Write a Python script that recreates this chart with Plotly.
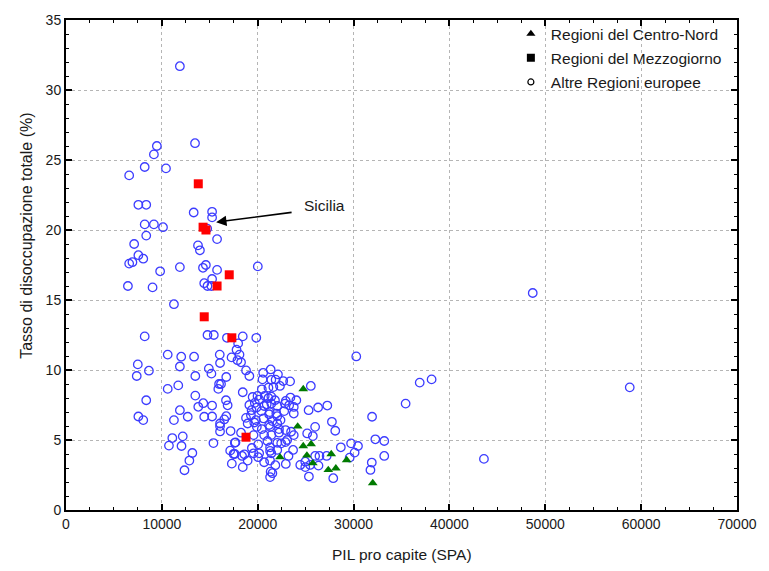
import plotly.graph_objects as go

# ---- Data ----
centro_nord_pil = [24750, 24170, 24750, 25570, 25130, 22320, 25750, 27670, 27360, 28150, 29280, 32000]
centro_nord_tasso = [8.64, 5.97, 4.57, 4.71, 3.9, 3.77, 3.34, 4.0, 2.86, 2.98, 3.57, 1.92]

mezzogiorno_pil = [13800, 14300, 14600, 17030, 15760, 14420, 17300, 18780]
mezzogiorno_tasso = [23.3, 20.2, 20.0, 16.8, 16.0, 13.8, 12.3, 5.2]

altre_pil = [
    11880, 13460, 9480, 9170, 8210, 10430, 6590, 7550, 8370, 13320, 15240, 15240,
    8210, 9170, 10120, 14730, 7110, 8370, 13770, 13970, 15760, 7550, 6590, 6930,
    8060, 9820, 11880, 14590, 14290, 15760, 20010, 15240, 14420, 14760, 15170, 6460,
    9030, 11260, 48690,
    8210, 14760, 15420, 16790, 18440, 19850, 17960, 17790, 18100, 17270, 17890, 18260,
    10610, 12020, 13360, 16040, 16070, 18780, 7490, 8650, 11880, 14900, 7380, 13490,
    15170, 16720, 19130, 20570, 30280, 21350,
    15970, 16170, 15890, 10610, 11710, 13490, 14320, 13800, 15240, 16690, 16860, 8370,
    7550, 8060, 11880, 12700, 11260, 14420, 15240, 16720, 16510, 16070, 16070, 17170,
    16070, 18440, 20500, 21420, 22110, 21870, 22660, 23380, 25540, 22320, 20430, 21120,
    21630, 19980, 20730, 21420, 19470, 21120, 21800, 22930, 23410, 24030, 19130, 19700,
    20150, 20940, 20670, 21420, 22040, 22840, 19360, 19880, 20390, 21250, 21940, 22760,
    23280, 23760, 23760, 19290, 21190, 22040, 18780, 19810, 20600, 21530, 22380, 18950,
    19640, 21190, 22040, 25310, 26300, 27260, 27740, 36900, 38140, 35430, 31930, 58810,
    19910, 20430, 21290, 22220, 22900, 23480, 22220, 21420, 28090, 25990, 25160, 25750,
    23760, 20670, 19570, 18260, 17680, 11090, 12180, 10740, 12050, 15380, 13180, 12870,
    12360, 17610, 17130, 17480, 17610, 17300, 18370, 18610, 18950, 18440, 19570, 19390,
    20050, 20050, 20150, 20670, 21010, 21290, 21290, 21420, 21290, 21840, 21350, 21530,
    21290, 22040, 22040, 22450, 22900, 23070, 23690, 23210, 22930, 24440, 24960, 24960,
    25470, 25340, 25990, 26440, 27190, 26340, 27880, 28670, 29740, 30460, 30110, 29590,
    32270, 31900, 31760, 33200, 33200, 43600,
]
altre_tasso = [
    31.7, 26.2, 26.0, 25.4, 24.5, 24.4, 23.9, 21.8, 21.8, 21.25, 21.3, 20.9,
    20.4, 20.4, 20.2, 20.1, 19.0, 19.6, 18.9, 18.55, 19.35, 18.2, 17.6, 17.7,
    17.95, 17.05, 17.35, 17.5, 17.3, 17.15, 17.4, 16.5, 16.2, 16.0, 16.0, 16.0,
    15.9, 14.7, 15.5,
    12.4, 12.5, 12.5, 12.3, 12.4, 12.3, 11.9, 11.45, 11.1, 10.9, 10.7, 10.55,
    11.1, 10.95, 10.95, 11.1, 10.5, 9.97, 10.4, 9.95, 10.25, 10.1, 9.57, 9.57,
    9.74, 9.5, 9.57, 9.8, 10.97, 10.04,
    9.0, 9.0, 8.65, 8.65, 8.9, 8.17, 7.63, 7.37, 7.46, 7.84, 7.48, 7.84,
    6.68, 6.42, 7.13, 6.66, 6.42, 6.66, 6.68, 6.7, 6.47, 5.99, 5.61, 5.64,
    6.18, 8.41, 9.33, 9.3, 9.69, 9.31, 9.21, 9.19, 8.86, 8.86, 8.62, 8.74,
    8.78, 8.15, 8.15, 8.1, 8.07, 8.0, 7.84, 7.79, 8.03, 7.84, 7.5, 7.65,
    7.89, 7.55, 7.43, 7.6, 7.43, 7.6, 7.13, 7.32, 7.06, 6.99, 6.89, 7.06,
    7.48, 7.36, 6.89, 6.77, 6.84, 6.7, 6.58, 6.42, 6.54, 6.35, 6.42, 6.18,
    6.25, 6.07, 6.18, 7.13, 7.32, 7.46, 6.3, 9.1, 9.33, 7.6, 6.66, 8.76,
    5.94, 5.78, 5.94, 5.78, 5.71, 5.59, 5.52, 5.35, 5.66, 5.94, 5.47, 5.28,
    5.35, 5.35, 5.35, 5.52, 4.83, 5.14, 5.26, 4.6, 4.57, 4.78, 4.07, 3.53,
    2.84, 4.8, 4.24, 4.0, 4.0, 3.31, 3.86, 3.98, 3.53, 3.06, 4.05, 4.43,
    4.69, 3.77, 4.05, 3.41, 4.93, 4.48, 4.22, 4.05, 3.53, 3.2, 2.74, 2.63,
    2.35, 4.29, 4.8, 4.76, 4.85, 5.0, 4.29, 3.86, 3.29, 3.22, 3.45, 3.06,
    3.22, 2.39, 3.86, 3.86, 3.86, 3.17, 2.27, 4.48, 4.76, 4.57, 4.1, 3.74,
    5.05, 3.39, 2.86, 4.93, 3.86, 3.65,
]

legend_labels = ["Regioni del Centro-Nord", "Regioni del Mezzogiorno", "Altre Regioni europee"]
x_title = "PIL pro capite (SPA)"
y_title = "Tasso di disoccupazione totale (%)"
annot_label = "Sicilia"
sicilia_point = (15660, 20.56)
sicilia_tail = (23690, 21.27)
sicilia_text_pos = (27000, 21.75)

FONT = "Liberation Sans, Arial, sans-serif"
TXT = "#1a1a1a"

fig = go.Figure()

# data traces (no legend)
fig.add_trace(go.Scatter(
    x=altre_pil, y=altre_tasso, mode="markers", showlegend=False, hoverinfo="x+y",
    marker=dict(symbol="circle-open", size=8.5, color="#3c3cff", line=dict(width=1.3, color="#3c3cff")),
))
fig.add_trace(go.Scatter(
    x=mezzogiorno_pil, y=mezzogiorno_tasso, mode="markers", showlegend=False,
    marker=dict(symbol="square", size=9, color="#ff0000", line=dict(width=0)),
))
fig.add_trace(go.Scatter(
    x=centro_nord_pil, y=centro_nord_tasso, mode="markers", showlegend=False,
    marker=dict(symbol="triangle-up", size=8.5, color="#007a00", line=dict(width=0)),
))

# legend-only entries in black
legend_styles = [
    dict(symbol="triangle-up", size=8, color="black", line=dict(width=0)),
    dict(symbol="square", size=8, color="black", line=dict(width=0)),
    dict(symbol="circle-open", size=6, color="black", line=dict(width=1.2, color="black")),
]
for i, (lab, mk) in enumerate(zip(legend_labels, legend_styles)):
    fig.add_trace(go.Scatter(x=[None], y=[None], mode="markers", name=lab,
                             marker=mk, legendgroup=f"g{i}", showlegend=True))

axis_common = dict(
    showline=True, linecolor="black", linewidth=2, mirror="ticks",
    ticks="inside", ticklen=6, tickwidth=1.5, tickcolor="black",
    showgrid=True, gridcolor="#b5b5b5", gridwidth=1, griddash="dot",
    zeroline=False,
    tickfont=dict(family=FONT, size=14, color=TXT),
)

fig.update_xaxes(
    range=[0, 70000], tickmode="linear", tick0=0, dtick=10000,
    minor=dict(dtick=2500, ticks="inside", ticklen=3, tickwidth=1.2, tickcolor="black", showgrid=False),
    tickformat="d",
    **axis_common,
)
fig.update_yaxes(
    range=[0, 35], tickmode="linear", tick0=0, dtick=5,
    minor=dict(dtick=1, ticks="inside", ticklen=3, tickwidth=1.2, tickcolor="black", showgrid=False),
    **axis_common,
)

fig.add_annotation(
    x=sicilia_point[0], y=sicilia_point[1], ax=sicilia_tail[0], ay=sicilia_tail[1],
    xref="x", yref="y", axref="x", ayref="y", text="", showarrow=True,
    arrowhead=2, arrowsize=1.3, arrowwidth=1.6, arrowcolor="black",
)
fig.add_annotation(
    x=sicilia_text_pos[0], y=sicilia_text_pos[1], xref="x", yref="y", text=annot_label,
    showarrow=False, font=dict(family=FONT, size=15.5, color=TXT),
)
# axis titles as annotations for precise placement
fig.add_annotation(
    x=0.5, y=-0.091, xref="paper", yref="paper", text=x_title, showarrow=False,
    font=dict(family=FONT, size=15.5, color=TXT), xanchor="center", yanchor="middle",
)
fig.add_annotation(
    x=-0.06, y=0.559, xref="paper", yref="paper", text=y_title, showarrow=False, textangle=-90,
    font=dict(family=FONT, size=16, color=TXT), xanchor="center", yanchor="middle",
)

fig.update_layout(
    width=769, height=571,
    margin=dict(l=66, r=23, t=18, b=61),
    paper_bgcolor="white", plot_bgcolor="white",
    font=dict(family=FONT, color=TXT),
    legend=dict(
        x=0.663, y=1.006, xanchor="left", yanchor="top",
        bgcolor="rgba(255,255,255,0)", borderwidth=0,
        font=dict(family=FONT, size=15.5, color=TXT),
        tracegroupgap=1, traceorder="grouped",
    ),
)

fig.write_html("out.html")
